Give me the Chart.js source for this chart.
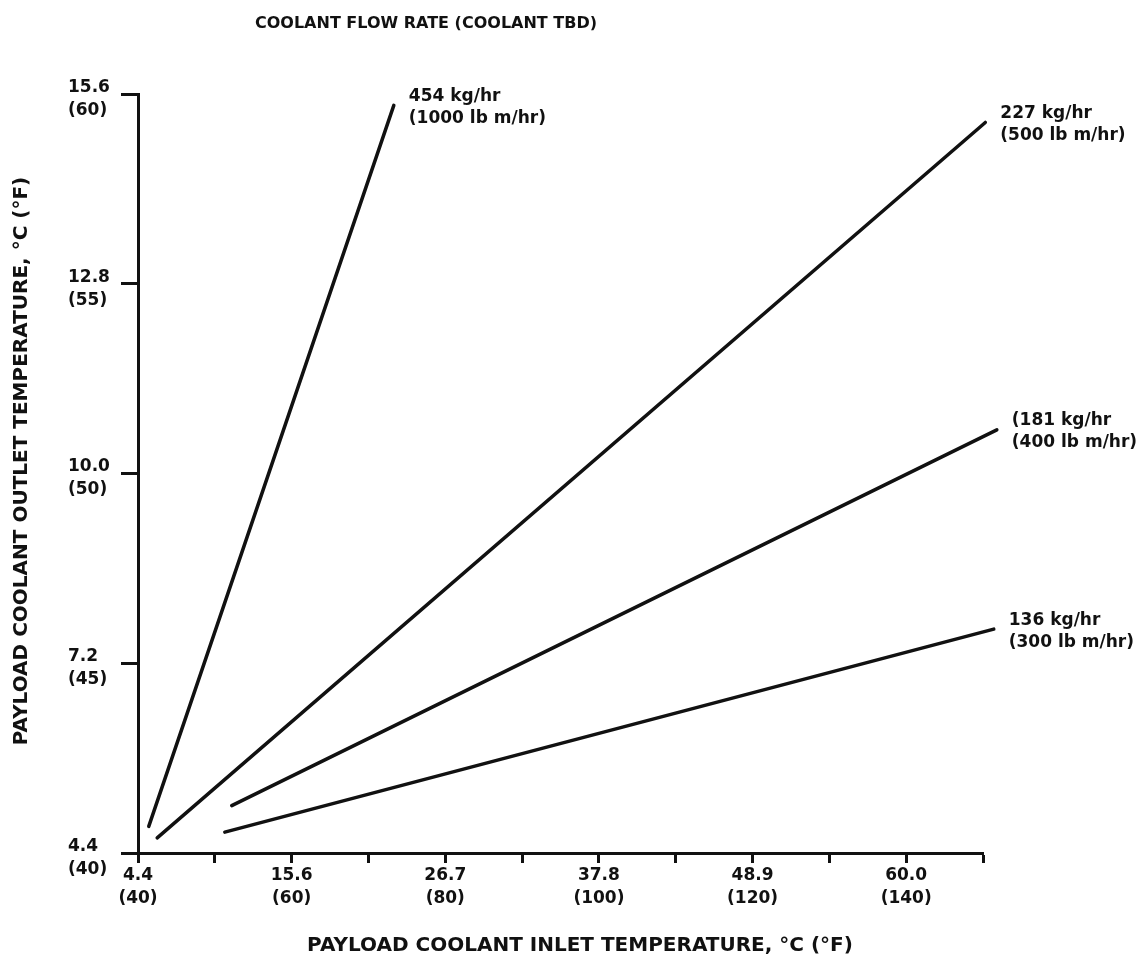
<!DOCTYPE html>
<html>
<head>
<meta charset="utf-8">
<title>Coolant flow rate</title>
<script src="https://cdn.jsdelivr.net/npm/chart.js@4.4.1/dist/chart.umd.min.js"></script>
<style>
  html, body { margin: 0; padding: 0; background: #fff; }
  #wrap { width: 1142px; height: 974px; }
</style>
</head>
<body>
<div id="wrap"><canvas id="c" width="1142" height="974"></canvas></div>
<script>
// Flow-rate lines: payload coolant inlet vs. outlet temperature (degrees F)
const flowKg = ['454 kg/hr', '227 kg/hr', '(181 kg/hr', '136 kg/hr'];
const flowLb = ['(1000 lb m/hr)', '(500 lb m/hr)', '(400 lb m/hr)', '(300 lb m/hr)'];

const inlet454 = [41.4, 73.3];
const outlet454 = [40.7, 59.7];
const inlet227 = [42.5, 150.3];
const outlet227 = [40.4, 59.25];
const inlet181 = [52.2, 151.8];
const outlet181 = [41.25, 51.15];
const inlet136 = [51.3, 151.4];
const outlet136 = [40.55, 45.9];

// Axis tick labels: Celsius over Fahrenheit
const xTickF = [40, 60, 80, 100, 120, 140];
const xTickC = ['4.4', '15.6', '26.7', '37.8', '48.9', '60.0'];
const yTickF = [40, 45, 50, 55, 60];
const yTickC = ['4.4', '7.2', '10.0', '12.8', '15.6'];

const chartTitle = 'COOLANT FLOW RATE (COOLANT TBD)';
const xTitle = 'PAYLOAD COOLANT INLET TEMPERATURE, °C (°F)';
const yTitle = 'PAYLOAD COOLANT OUTLET TEMPERATURE, °C (°F)';

const FAMILY = '"DejaVu Sans", "Liberation Sans", sans-serif';
const INK = '#111';

const inlets = [inlet454, inlet227, inlet181, inlet136];
const outlets = [outlet454, outlet227, outlet181, outlet136];

const datasets = flowKg.map((name, i) => ({
  label: name,
  data: inlets[i].map((x, j) => ({ x: x, y: outlets[i][j] })),
  showLine: true,
  borderColor: INK,
  borderWidth: 3.5,
  borderCapStyle: 'round',
  pointRadius: 0,
  tension: 0,
  clip: false
}));

// Flow-rate captions next to the upper end of each line, plus the titles
const annotate = {
  id: 'annotate',
  afterDatasetsDraw(chart) {
    const ctx = chart.ctx;
    ctx.save();
    ctx.fillStyle = INK;
    ctx.font = 'bold 17px ' + FAMILY;
    ctx.textAlign = 'left';
    ctx.textBaseline = 'middle';
    chart.data.datasets.forEach((ds, i) => {
      const pts = chart.getDatasetMeta(i).data;
      const end = pts[pts.length - 1];
      ctx.fillText(flowKg[i], end.x + 15, end.y - 9);
      ctx.fillText(flowLb[i], end.x + 15, end.y + 13);
    });
    ctx.restore();
  },
  afterDraw(chart) {
    const ctx = chart.ctx;
    ctx.save();
    ctx.fillStyle = INK;
    ctx.textAlign = 'center';
    ctx.textBaseline = 'middle';
    ctx.font = 'bold 16px ' + FAMILY;
    ctx.fillText(chartTitle, 426, 24);
    ctx.font = 'bold 20px ' + FAMILY;
    ctx.fillText(xTitle, 580, 946);
    ctx.translate(22, 461);
    ctx.rotate(-Math.PI / 2);
    ctx.fillText(yTitle, 0, 0);
    ctx.restore();
  }
};

const tickFont = { family: FAMILY, size: 17, weight: 'bold', lineHeight: 1.3 };

new Chart(document.getElementById('c'), {
  type: 'scatter',
  data: { datasets: datasets },
  plugins: [annotate],
  options: {
    responsive: false,
    animation: false,
    layout: { padding: { left: 68, top: 94, right: 159, bottom: 61 } },
    plugins: { legend: { display: false }, tooltip: { enabled: false } },
    scales: {
      x: {
        type: 'linear',
        min: 40,
        max: 150,
        afterFit(s) { s.height = 60; },
        border: { display: true, color: INK, width: 3 },
        grid: { drawOnChartArea: false, drawTicks: true, tickLength: 10, tickWidth: 3, color: INK },
        ticks: {
          stepSize: 10,
          autoSkip: false,
          maxRotation: 0,
          padding: 2,
          color: INK,
          font: tickFont,
          callback(v) {
            const k = xTickF.indexOf(v);
            return k < 0 ? '' : [xTickC[k], '(' + xTickF[k] + ')'];
          }
        }
      },
      y: {
        type: 'linear',
        min: 40,
        max: 60,
        afterFit(s) { s.width = 70; },
        border: { display: true, color: INK, width: 3 },
        grid: { drawOnChartArea: false, drawTicks: true, tickLength: 17, tickWidth: 3, color: INK },
        ticks: {
          stepSize: 5,
          autoSkip: false,
          crossAlign: 'far',
          labelOffset: 5,
          color: INK,
          font: { family: FAMILY, size: 17, weight: 'bold', lineHeight: 1.35 },
          callback(v) {
            const k = yTickF.indexOf(v);
            return k < 0 ? '' : [yTickC[k], '(' + yTickF[k] + ')'];
          }
        }
      }
    }
  }
});
</script>
</body>
</html>
